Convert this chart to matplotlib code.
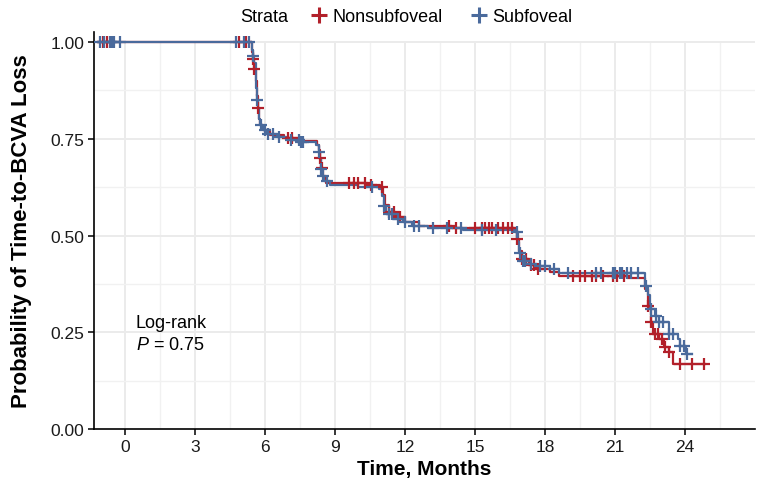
import numpy as np
import matplotlib
matplotlib.use('Agg')
import matplotlib.pyplot as plt
from matplotlib.lines import Line2D

plt.rcParams['font.family'] = ['Liberation Sans', 'DejaVu Sans']
plt.rcParams['mathtext.fontset'] = 'custom'
plt.rcParams['mathtext.it'] = 'Liberation Sans:italic'
plt.rcParams['mathtext.rm'] = 'Liberation Sans'

# Kaplan-Meier step data (time in months, survival)
red_t = [-1.15, 5.45, 5.5, 5.55, 5.6, 5.65, 5.7, 5.75, 5.8, 5.9, 6.2, 6.8, 7.6, 8.25, 8.3,
         8.35, 8.4, 8.5, 8.6, 10.4, 10.95, 11.05, 11.15, 11.3, 11.6, 12.0, 12.6, 14.0, 16.7,
         16.8, 16.9, 17.0, 17.3, 17.6, 18.2, 18.6, 21.5, 22.3, 22.4, 22.55, 22.65, 22.9, 23.1,
         23.3, 23.5, 24.85]
red_s = [1.0, 0.975, 0.955, 0.93, 0.9, 0.86, 0.83, 0.80, 0.785, 0.772, 0.76, 0.752, 0.745,
         0.735, 0.72, 0.70, 0.675, 0.655, 0.636, 0.63, 0.625, 0.605, 0.58, 0.56, 0.548, 0.535,
         0.525, 0.52, 0.515, 0.49, 0.46, 0.44, 0.425, 0.413, 0.405, 0.396, 0.39, 0.362, 0.319,
         0.276, 0.245, 0.233, 0.211, 0.198, 0.168, 0.168]
red_cens = [-0.95, -0.78, 4.9, 5.2, 5.5, 5.55, 5.7, 7.0, 7.15, 8.35, 8.45, 9.6, 9.8, 10.0,
            10.3, 10.55, 11.0, 11.3, 11.55, 11.8, 13.9, 14.2, 15.0, 15.3, 15.45, 15.6, 15.75,
            16.0, 16.2, 16.4, 16.6, 16.8, 17.0, 17.2, 17.4, 17.55, 17.7, 19.2, 19.5, 19.7, 20.0,
            20.2, 20.5, 20.9, 21.1, 21.4, 22.4, 22.55, 22.7, 22.85, 23.0, 23.15, 23.3, 23.8,
            24.3, 24.8]

blue_t = [-1.15, 5.45, 5.5, 5.55, 5.6, 5.62, 5.65, 5.7, 5.75, 5.8, 5.9, 6.1, 6.5, 7.0, 7.5,
          8.2, 8.3, 8.35, 8.4, 8.45, 8.55, 8.8, 10.0, 10.9, 11.0, 11.1, 11.2, 11.5, 11.9, 12.3,
          13.0, 14.5, 16.7, 16.85, 16.9, 17.0, 17.2, 17.7, 18.2, 18.6, 22.3, 22.4, 22.5, 22.7,
          22.9, 23.3, 23.7, 23.8, 24.05, 24.3]
blue_s = [1.0, 0.98, 0.965, 0.945, 0.92, 0.88, 0.85, 0.83, 0.80, 0.785, 0.772, 0.762, 0.754,
          0.748, 0.741, 0.733, 0.715, 0.698, 0.672, 0.655, 0.64, 0.63, 0.625, 0.62, 0.603,
          0.575, 0.556, 0.543, 0.534, 0.525, 0.52, 0.515, 0.508, 0.482, 0.455, 0.435, 0.426,
          0.42, 0.413, 0.403, 0.37, 0.345, 0.31, 0.293, 0.276, 0.245, 0.233, 0.215, 0.194, 0.194]
blue_cens = [-1.07, -0.9, -0.62, -0.58, -0.52, -0.48, -0.2, 4.75, 5.1, 5.3, 5.5, 5.65, 5.85,
             6.0, 6.15, 6.35, 6.6, 7.1, 7.45, 7.55, 7.65, 8.3, 8.4, 8.5, 8.65, 10.6, 11.1, 11.3,
             11.45, 11.7, 12.0, 12.4, 12.6, 13.2, 13.8, 14.4, 15.3, 15.9, 16.8, 16.95, 17.05,
             17.15, 17.4, 17.8, 18.0, 18.4, 19.0, 20.2, 20.4, 20.9, 21.0, 21.2, 21.3, 21.5, 21.7,
             22.0, 22.35, 22.55, 22.75, 22.9, 23.05, 23.3, 23.5, 23.8, 23.95, 24.1]

labels = ['Nonsubfoveal', 'Subfoveal']
colors = ['#B2202A', '#4A6A9C']
x_ticks = [0, 3, 6, 9, 12, 15, 18, 21, 24]
y_ticks = [0.0, 0.25, 0.5, 0.75, 1.0]

fig = plt.figure(figsize=(7.63, 4.85), dpi=100)
ax = fig.add_axes([0.1232, 0.1134, 0.8663, 0.8186])
ax.set_xlim(-1.32, 27.0)
ax.set_ylim(0, 1.026)

# grid (drawn manually so it stops at 1.0 like the original)
for gx in np.arange(-1.5, 27, 1.5):
    major = (gx % 3 == 0)
    ax.vlines(gx, 0, 1.0, color='#EBEBEB' if major else '#F1F1F1',
              lw=1.4 if major else 1.0, zorder=0)
for gy in np.arange(0.125, 1.01, 0.125):
    major = abs(gy * 4 - round(gy * 4)) < 1e-9
    ax.axhline(gy, color='#EBEBEB' if major else '#F1F1F1',
               lw=1.4 if major else 1.0, zorder=0)

def km(t, s, cens, color):
    t = np.array(t)
    s = np.array(s)
    ax.step(t, s, where='post', color=color, lw=1.6, zorder=3)
    cens = np.array(cens)
    idx = np.searchsorted(t, cens, side='right') - 1
    ax.plot(cens, s[idx], ls='none', marker='+', color=color,
            ms=9, mew=1.6, zorder=4)

km(red_t, red_s, red_cens, colors[0])
km(blue_t, blue_s, blue_cens, colors[1])

ax.set_xticks(x_ticks)
ax.set_yticks(y_ticks)
ax.set_yticklabels(['%.2f' % v for v in y_ticks])
ax.tick_params(labelsize=12.5, length=4, width=1.1, color='black', labelcolor='#1a1a1a', pad=3)
for sp in ['top', 'right']:
    ax.spines[sp].set_visible(False)
for sp in ['left', 'bottom']:
    ax.spines[sp].set_linewidth(1.2)

ax.set_xlabel('Time, Months', fontsize=15, fontweight='bold', labelpad=4)
ax.set_ylabel('Probability of Time-to-BCVA Loss', fontsize=16, fontweight='bold', labelpad=13)

ax.text(0.45, 0.276, 'Log-rank', fontsize=13, ha='left', va='center')
ax.text(0.5, 0.218, '$P$ = 0.75', fontsize=13, ha='left', va='center')

handles = [Line2D([], [], ls='none', marker='+', color=c, ms=12, mew=2.2) for c in colors]
fig.text(264 / 763, 1 - 18 / 485, 'Strata', fontsize=13, ha='center', va='center')
fig.legend(handles, labels, loc='center left', bbox_to_anchor=(312 / 763, 1 - 18 / 485),
           ncol=2, frameon=False, fontsize=13, handlelength=0.8, handletextpad=0.35,
           columnspacing=1.6, borderaxespad=0, borderpad=0)

fig.savefig('out.png', dpi=100)
